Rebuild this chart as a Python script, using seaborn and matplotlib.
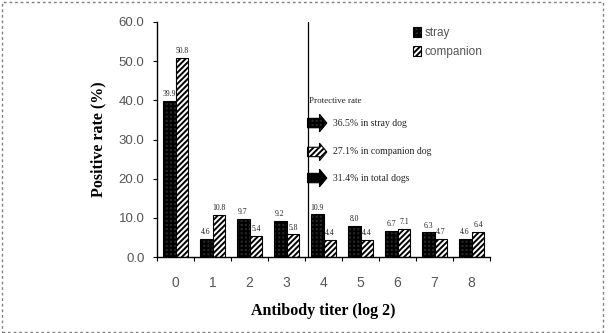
import matplotlib
matplotlib.use("Agg")
import matplotlib.pyplot as plt
import seaborn as sns
import pandas as pd
from matplotlib.patches import Rectangle, FancyArrow

# ---- data ----
titers = ["0", "1", "2", "3", "4", "5", "6", "7", "8"]
stray = [39.9, 4.6, 9.7, 9.2, 10.9, 8.0, 6.7, 6.3, 4.6]
companion = [50.8, 10.8, 5.4, 5.8, 4.4, 4.4, 7.1, 4.7, 6.4]
groups = ["stray", "companion"]
protective_title = "Protective rate"
protective_texts = ["36.5% in stray dog", "27.1% in companion dog", "31.4% in total dogs"]
yticks = [0, 10, 20, 30, 40, 50, 60]
cutoff = 3.57  # protective threshold line between titer 3 and 4

df = pd.DataFrame({
    "titer": titers * 2,
    "group": [groups[0]] * len(titers) + [groups[1]] * len(titers),
    "value": stray + companion,
})

sns.set_theme(style="white")
plt.rcParams["hatch.linewidth"] = 1.4
plt.rcParams["font.family"] = ["Liberation Sans", "DejaVu Sans"]

fig = plt.figure(figsize=(6.08, 3.33), dpi=100)
ax = fig.add_axes([157 / 608, 1 - 257 / 333, 333 / 608, 235 / 333])

sns.barplot(data=df, x="titer", y="value", hue="group", order=titers,
            hue_order=groups, width=0.7, gap=0, ax=ax, legend=False,
            edgecolor="black", linewidth=0.8)

styles = [dict(facecolor="#262626", hatch="++++"),
          dict(facecolor="white", hatch="//////")]
for cont, st in zip(ax.containers, styles):
    for p in cont:
        p.set_facecolor(st["facecolor"])
        p.set_hatch(st["hatch"])
        p.set_edgecolor("black")
    ax.bar_label(cont, fmt="%.1f", padding=2, fontsize=5.5,
                 family="Liberation Serif", color="#222")

ax.set_xlim(-0.5, 8.5)
ax.set_ylim(0, 60)
ax.set_yticks(yticks)
ax.set_yticklabels([f"{v:.1f}" for v in yticks])
ax.set_xticks(range(len(titers)))
ax.set_xticks([i - 0.5 for i in range(len(titers) + 1)], minor=True)
ax.tick_params(axis="x", which="major", length=0, pad=14, labelsize=10, labelcolor="#555")
ax.tick_params(axis="x", which="minor", length=3, width=0.8, direction="out", color="black", bottom=True)
ax.tick_params(axis="y", which="major", length=3, width=0.8, direction="out", color="black",
               left=True, labelsize=9.5, labelcolor="#555", pad=6)

for s in ["top", "right"]:
    ax.spines[s].set_visible(False)
for s in ["left", "bottom"]:
    ax.spines[s].set_color("black")
    ax.spines[s].set_linewidth(1.0)

ax.set_xlabel("Antibody titer (log 2)", family="Liberation Serif", fontweight="bold",
              fontsize=11.5, labelpad=9, color="black")
ax.set_ylabel("Positive rate (%)", family="Liberation Serif", fontweight="bold",
              fontsize=11.5, labelpad=9, color="black")

ax.axvline(cutoff, color="black", linewidth=0.9)

# legend
handles = [ax.containers[0][0], ax.containers[1][0]]
ax.legend(handles, groups, loc="upper left", bbox_to_anchor=(413 / 608, 1 - 27 / 333),
          bbox_transform=fig.transFigure, frameon=False, fontsize=8.5,
          handlelength=0.7, handleheight=0.9, handletextpad=0.25,
          labelspacing=0.6, borderpad=0, borderaxespad=0, labelcolor="#555")

# protective rate annotation
ax.text(0.455, 0.665, protective_title, transform=ax.transAxes, fontsize=6.5,
        family="Liberation Serif", va="center", ha="left", color="#222")
arrow_styles = [dict(fc="#262626", hatch="++++"), dict(fc="white", hatch="//////"),
                dict(fc="black", hatch=None)]
arrow_y = [0.570, 0.447, 0.336]
for yy, st, txt in zip(arrow_y, arrow_styles, protective_texts):
    arr = FancyArrow(0.452, yy, 0.058, 0, width=0.04, head_width=0.075,
                     head_length=0.022, length_includes_head=True,
                     transform=ax.transAxes, fc=st["fc"], ec="black",
                     lw=0.8, hatch=st["hatch"], clip_on=False)
    ax.add_patch(arr)
    ax.text(0.528, yy, txt, transform=ax.transAxes, fontsize=7,
            family="Liberation Serif", va="center", ha="left", color="#222")

# dotted frame around the figure
fig.patches.append(Rectangle((1.5 / 608, 1.5 / 333), 601 / 608, 329.5 / 333,
                             transform=fig.transFigure, fill=False,
                             edgecolor="#808080", linewidth=1.0,
                             linestyle=(0, (2, 2))))

fig.savefig("out.png", dpi=100)
